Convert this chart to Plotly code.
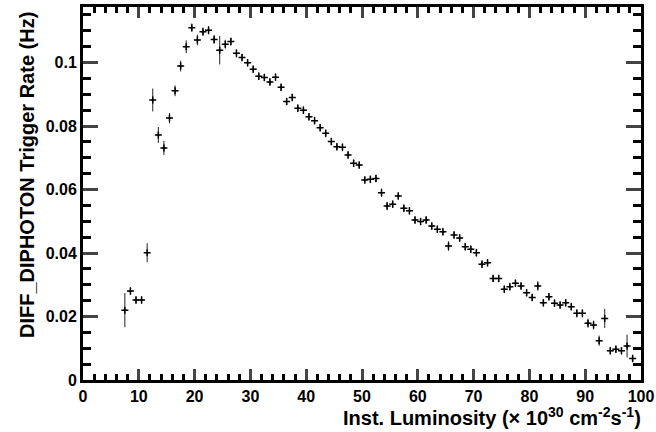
import numpy as np
import plotly.graph_objects as go

lumi = [i + 0.5 for i in range(7, 99)]
rate = [0.0220, 0.0280, 0.0252, 0.0252, 0.0401, 0.0882, 0.0772, 0.0731, 0.0825, 0.0911,
        0.0989, 0.1050, 0.1110, 0.1071, 0.1097, 0.1102, 0.1073, 0.1039, 0.1058, 0.1066,
        0.1029, 0.1016, 0.0999, 0.0979, 0.0957, 0.0953, 0.0939, 0.0954, 0.0922, 0.0877,
        0.0890, 0.0856, 0.0850, 0.0829, 0.0817, 0.0795, 0.0777, 0.0751, 0.0735, 0.0733,
        0.0709, 0.0683, 0.0677, 0.0630, 0.0632, 0.0635, 0.0590, 0.0548, 0.0554, 0.0580,
        0.0541, 0.0533, 0.0504, 0.0499, 0.0504, 0.0485, 0.0475, 0.0467, 0.0422, 0.0457,
        0.0447, 0.0420, 0.0412, 0.0401, 0.0365, 0.0369, 0.0320, 0.0320, 0.0286, 0.0294,
        0.0305, 0.0296, 0.0275, 0.0260, 0.0296, 0.0243, 0.0262, 0.0242, 0.0236, 0.0243,
        0.0231, 0.0210, 0.0210, 0.0179, 0.0173, 0.0124, 0.0194, 0.0092, 0.0097, 0.0092,
        0.0107, 0.0068]
err = [0.0054, 0.0012, 0.0012, 0.0012, 0.0030, 0.0036, 0.0025, 0.0022, 0.0016, 0.0017,
       0.0017, 0.0020, 0.0013, 0.0017, 0.0013, 0.0013, 0.0014, 0.0045, 0.0014, 0.0013,
       0.0013, 0.0012, 0.0012, 0.0012, 0.0012, 0.0012, 0.0012, 0.0012, 0.0012, 0.0012,
       0.0012, 0.0012, 0.0012, 0.0012, 0.0012, 0.0012, 0.0012, 0.0012, 0.0012, 0.0012,
       0.0012, 0.0012, 0.0012, 0.0012, 0.0012, 0.0012, 0.0013, 0.0013, 0.0012, 0.0012,
       0.0012, 0.0012, 0.0012, 0.0012, 0.0012, 0.0012, 0.0012, 0.0012, 0.0015, 0.0012,
       0.0012, 0.0012, 0.0012, 0.0012, 0.0012, 0.0012, 0.0012, 0.0012, 0.0012, 0.0012,
       0.0012, 0.0012, 0.0012, 0.0012, 0.0015, 0.0012, 0.0012, 0.0012, 0.0012, 0.0012,
       0.0012, 0.0013, 0.0013, 0.0014, 0.0014, 0.0016, 0.0030, 0.0012, 0.0012, 0.0012,
       0.0036, 0.0012]

fig = go.Figure()
fig.add_trace(go.Scatter(
    x=lumi, y=rate, mode="markers",
    marker=dict(symbol="cross-thin", size=5, color="black",
                line=dict(color="black", width=1.5)),
    error_y=dict(type="data", array=err, visible=True, color="#222222",
                 thickness=1, width=0),
    error_x=dict(type="constant", value=0.35, visible=True, color="#222222",
                 thickness=1, width=0),
    showlegend=False,
))

FAM = "Liberation Sans, Arial, sans-serif"

fig.update_layout(
    width=656, height=432,
    margin=dict(l=83, r=15, t=7, b=52),
    paper_bgcolor="white", plot_bgcolor="white",
    font=dict(family=FAM, size=16, color="black"),
    xaxis=dict(range=[0, 100], dtick=10, tick0=0, ticks="inside", ticklen=11,
               tickwidth=2.5, showline=True, linewidth=3, linecolor="black",
               mirror="allticks", showgrid=False, zeroline=False, automargin=False,
               tickfont=dict(family=FAM, size=16, color="black", weight="bold"),
               minor=dict(dtick=2, ticks="inside", ticklen=6, tickwidth=2.5,
                          tickcolor="black", showgrid=False)),
    yaxis=dict(range=[0, 0.1175], dtick=0.02, tick0=0, ticks="inside", ticklen=15,
               tickwidth=3, showline=True, linewidth=3, linecolor="black",
               mirror="allticks", showgrid=False, zeroline=False, automargin=False,
               tickfont=dict(family=FAM, size=16, color="black", weight="bold"),
               minor=dict(dtick=0.005, ticks="inside", ticklen=8, tickwidth=3,
                          tickcolor="black", showgrid=False)),
)

fig.add_annotation(
    text="Inst. Luminosity (\u00d7 10<sup>30</sup> cm<sup>-2</sup>s<sup>-1</sup>)",
    xref="paper", yref="paper", x=1, y=0, xanchor="right", yanchor="top",
    xshift=2, yshift=-22, showarrow=False,
    font=dict(family=FAM, size=20, color="black", weight="bold"))
fig.add_annotation(
    text="DIFF_DIPHOTON Trigger Rate (Hz)",
    xref="paper", yref="paper", x=0, y=1, xanchor="center", yanchor="top",
    xshift=-56, yshift=-3, textangle=-90, showarrow=False,
    font=dict(family=FAM, size=20, color="black", weight="bold"))

fig.write_html("out.html", config={"displayModeBar": False},
               post_script="document.body.style.margin='0';document.body.style.overflow='hidden';")
